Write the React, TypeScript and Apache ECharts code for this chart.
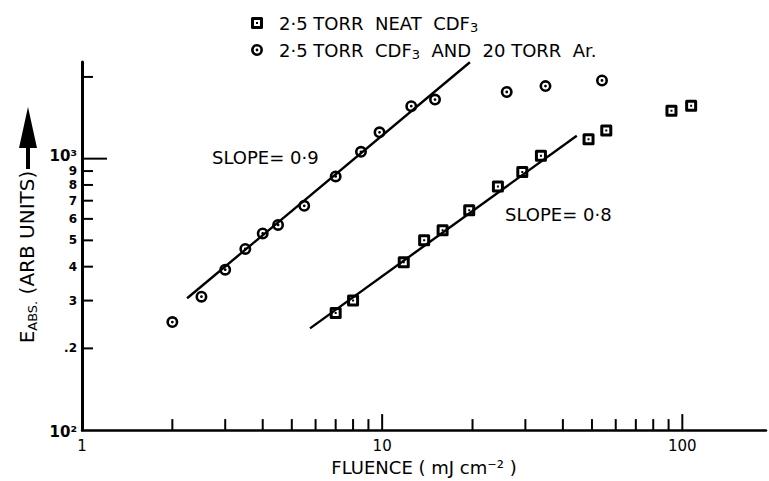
import React, { useEffect, useRef } from "react";
import * as echarts from "echarts";

// ---- data (log-log) ----
const circleFluence = [2.0, 2.5, 3.0, 3.5, 4.0, 4.5, 5.5, 7.0, 8.5, 9.8, 12.5, 15, 26, 35, 54];
const circleEabs = [250, 310, 390, 465, 530, 570, 670, 860, 1060, 1250, 1560, 1650, 1760, 1850, 1940];

const squareFluence = [7.0, 8.0, 11.8, 13.8, 15.9, 19.5, 24.3, 29.3, 33.8, 48.7, 55.8, 92, 107];
const squareEabs = [270, 300, 415, 500, 545, 645, 790, 893, 1025, 1180, 1270, 1500, 1565];

const fitArFluence = [2.24, 19.6];
const fitArEabs = [306, 2265];
const fitNeatFluence = [5.75, 44.5];
const fitNeatEabs = [237, 1215];

const xTickValues = [2, 3, 4, 5, 6, 7, 8, 9, 10, 20, 30, 40, 50, 60, 70, 80, 90, 100];
const xMajorTicks = [10, 100];
const xLabelValues = [1, 10, 100];

const yTickValues = [200, 300, 400, 500, 600, 700, 800, 900, 1000, 2000];
const yMajorTicks = [1000];
const yDigitLabels = [".2", "3", "4", "5", "6", "7", "8", "9", "", ""];

const X_MIN = 1;
const X_MAX = 190;
const Y_MIN = 100;
const Y_MAX = 2270;

const NEAT_NAME = "2·5 TORR  NEAT  CDF3";
const AR_NAME = "2·5 TORR  CDF3  AND  20 TORR  Ar.";
const FONT = '"DejaVu Sans", sans-serif';

const CIRCLE_ICON =
  "path://M0,6 A6,6 0 1,1 12,6 A6,6 0 1,1 0,6 Z M2.6,6 A3.4,3.4 0 1,0 9.4,6 A3.4,3.4 0 1,0 2.6,6 Z M4.6,6 A1.4,1.4 0 1,1 7.4,6 A1.4,1.4 0 1,1 4.6,6 Z";
const SQUARE_ICON =
  "path://M1.5,0 L10.5,0 Q12,0 12,1.5 L12,10.5 Q12,12 10.5,12 L1.5,12 Q0,12 0,10.5 L0,1.5 Q0,0 1.5,0 Z M3,3 L3,9 L9,9 L9,3 Z M5,5 L7,5 L7,7 L5,7 Z";

export default function App() {
  const ref = useRef<HTMLDivElement>(null);

  useEffect(() => {
    if (!ref.current) return;
    const chart = echarts.init(ref.current, undefined, { renderer: "svg" });

    const option: any = {
      animation: false,
      backgroundColor: "#ffffff",
      textStyle: { fontFamily: FONT, color: "#000" },
      grid: { left: 82, right: 0, top: 62, bottom: 50, containLabel: false },
      legend: {
        orient: "vertical",
        left: 246,
        top: 9,
        itemWidth: 34,
        itemHeight: 12,
        itemGap: 7,
        selectedMode: false,
        data: [
          { name: NEAT_NAME, icon: SQUARE_ICON },
          { name: AR_NAME, icon: CIRCLE_ICON },
        ],
        formatter: (name: string) => name.replace("CDF3", "CDF{sub|3}"),
        textStyle: {
          fontFamily: FONT,
          fontSize: 18,
          color: "#000",
          rich: {
            sub: { fontFamily: FONT, fontSize: 13, color: "#000", padding: [9, 0, 0, 0] },
          },
        },
      },
      xAxis: {
        type: "log",
        logBase: 10,
        min: X_MIN,
        max: X_MAX,
        name: "FLUENCE ( mJ cm⁻² )",
        nameLocation: "middle",
        nameGap: 26,
        nameTextStyle: { fontFamily: FONT, fontSize: 18, color: "#000" },
        axisLine: { show: true, onZero: false, lineStyle: { color: "#000", width: 2.5 } },
        axisTick: { show: false },
        splitLine: { show: false },
        axisLabel: {
          margin: 8,
          fontFamily: FONT,
          fontSize: 15,
          color: "#000",
          formatter: (v: number) => (xLabelValues.indexOf(v) >= 0 ? String(v) : ""),
        },
      },
      yAxis: {
        type: "log",
        logBase: 10,
        min: Y_MIN,
        max: Y_MAX,
        name: "E{sub|ABS.} (ARB UNITS)",
        nameLocation: "middle",
        nameRotate: 90,
        nameGap: 42,
        nameTextStyle: {
          fontFamily: FONT,
          fontSize: 20,
          color: "#000",
          padding: [0, 22, 0, 0],
          rich: {
            sub: { fontFamily: FONT, fontSize: 13, color: "#000", padding: [10, 0, 0, 0] },
          },
        },
        axisLine: { show: true, onZero: false, lineStyle: { color: "#000", width: 3 } },
        axisTick: { show: false },
        splitLine: { show: false },
        axisLabel: {
          margin: 5,
          color: "#000",
          formatter: (v: number) => (v === 100 ? "{lo|10²}" : v === 1000 ? "{hi|10³}" : ""),
          rich: {
            lo: { fontFamily: FONT, fontSize: 15, fontWeight: "bold", color: "#000", padding: [3, 0, 0, 0] },
            hi: { fontFamily: FONT, fontSize: 15, fontWeight: "bold", color: "#000", padding: [0, 0, 6, 0] },
          },
        },
      },
      graphic: [
        {
          type: "polygon",
          shape: { points: [[28, 107], [19, 148], [37, 148]] },
          style: { fill: "#000" },
        },
        {
          type: "rect",
          shape: { x: 26, y: 146, width: 4, height: 23 },
          style: { fill: "#000" },
        },
        {
          type: "text",
          x: 212,
          y: 157,
          style: { text: "SLOPE= 0·9", fontFamily: FONT, fontSize: 18, fill: "#000", align: "left", verticalAlign: "middle" },
        },
        {
          type: "text",
          x: 505,
          y: 214,
          style: { text: "SLOPE= 0·8", fontFamily: FONT, fontSize: 18, fill: "#000", align: "left", verticalAlign: "middle" },
        },
      ],
      series: [
        {
          type: "custom",
          name: "xticks",
          silent: true,
          clip: false,
          data: xTickValues.map((v) => [v, Y_MIN]),
          renderItem: (params: any, api: any) => {
            const v = api.value(0);
            const p = api.coord([v, Y_MIN]);
            const len = xMajorTicks.indexOf(v) >= 0 ? 16 : 11;
            return {
              type: "line",
              shape: { x1: p[0], y1: p[1], x2: p[0], y2: p[1] - len },
              style: { stroke: "#000", lineWidth: 2 },
            };
          },
        },
        {
          type: "custom",
          name: "yticks",
          silent: true,
          clip: false,
          data: yTickValues.map((v) => [X_MIN, v]),
          renderItem: (params: any, api: any) => {
            const v = api.value(1);
            const p = api.coord([X_MIN, v]);
            const len = yMajorTicks.indexOf(v) >= 0 ? 25 : 11;
            const children: any[] = [
              {
                type: "line",
                shape: { x1: p[0], y1: p[1], x2: p[0] + len, y2: p[1] },
                style: { stroke: "#000", lineWidth: 2 },
              },
            ];
            const label = yDigitLabels[params.dataIndex];
            if (label) {
              children.push({
                type: "text",
                x: p[0] - 5,
                y: p[1],
                style: {
                  text: label,
                  align: "right",
                  verticalAlign: "middle",
                  fontFamily: FONT,
                  fontSize: 12,
                  fontWeight: "bold",
                  fill: "#000",
                },
              });
            }
            return { type: "group", children };
          },
        },
        {
          type: "line",
          name: "fitAr",
          data: fitArFluence.map((x, i) => [x, fitArEabs[i]]),
          showSymbol: false,
          silent: true,
          lineStyle: { color: "#000", width: 2.4 },
        },
        {
          type: "line",
          name: "fitNeat",
          data: fitNeatFluence.map((x, i) => [x, fitNeatEabs[i]]),
          showSymbol: false,
          silent: true,
          lineStyle: { color: "#000", width: 2.4 },
        },
        {
          type: "scatter",
          name: NEAT_NAME,
          symbol: SQUARE_ICON,
          symbolSize: 12,
          symbolKeepAspect: true,
          itemStyle: { color: "#000", opacity: 1 },
          data: squareFluence.map((x, i) => [x, squareEabs[i]]),
        },
        {
          type: "scatter",
          name: AR_NAME,
          symbol: CIRCLE_ICON,
          symbolSize: 12,
          symbolKeepAspect: true,
          itemStyle: { color: "#000", opacity: 1 },
          data: circleFluence.map((x, i) => [x, circleEabs[i]]),
        },
      ],
    };

    chart.setOption(option);
    return () => {
      chart.dispose();
    };
  }, []);

  return (
    <div
      ref={ref}
      style={{ position: "fixed", left: 0, top: 0, width: 769, height: 481, background: "#fff" }}
    />
  );
}
